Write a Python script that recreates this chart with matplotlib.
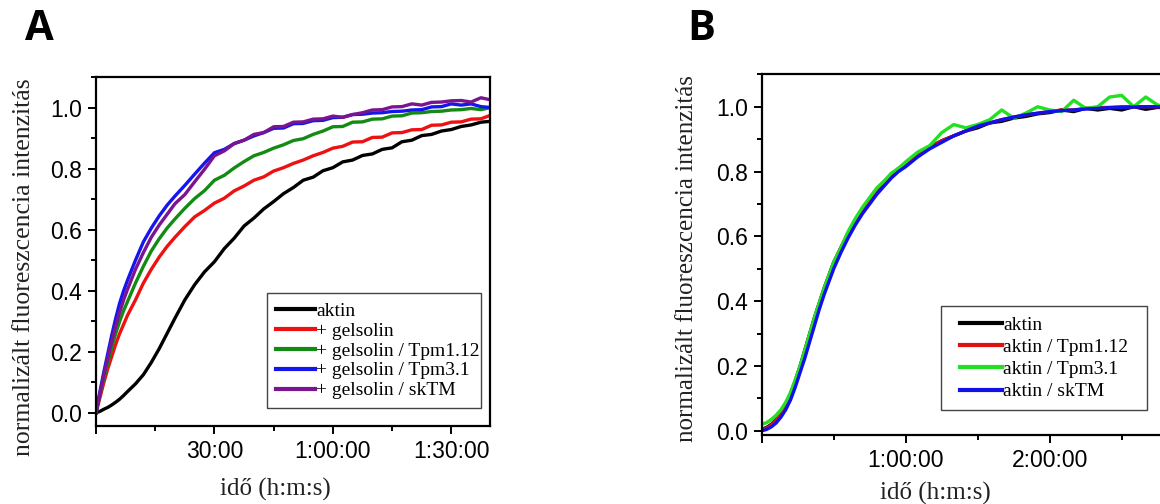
import matplotlib
matplotlib.use("Agg")
import matplotlib.pyplot as plt
from matplotlib.patches import Rectangle
from matplotlib.ticker import MultipleLocator, FuncFormatter

# ---------- Data (time in minutes, normalised intensity) ----------

# Panel A
time_a = [0, 1, 2, 3, 4, 5, 6, 7, 8, 10, 12, 14, 16, 18, 20,
          22.5, 25, 27.5, 30, 32.5, 35, 37.5, 40, 42.5, 45, 47.5, 50, 52.5, 55, 57.5,
          60, 62.5, 65, 67.5, 70, 72.5, 75, 77.5, 80, 82.5, 85, 87.5, 90, 92.5, 95, 97.5, 100]
aktin_a = [0.0, 0.005, 0.012, 0.018, 0.026, 0.035, 0.045, 0.057, 0.07, 0.095, 0.125, 0.165, 0.21, 0.26, 0.31,
           0.37, 0.42, 0.462, 0.495, 0.538, 0.572, 0.612, 0.638, 0.668, 0.692, 0.718, 0.738, 0.762, 0.772, 0.793,
           0.803, 0.822, 0.828, 0.843, 0.848, 0.863, 0.868, 0.888, 0.893, 0.908, 0.912, 0.923, 0.928, 0.938, 0.943, 0.952, 0.955]
gelsolin_a = [0.0, 0.05, 0.10, 0.145, 0.185, 0.225, 0.26, 0.29, 0.32, 0.37, 0.425, 0.47, 0.51, 0.545, 0.575,
              0.61, 0.642, 0.663, 0.687, 0.703, 0.727, 0.743, 0.762, 0.773, 0.792, 0.803, 0.817, 0.828, 0.842, 0.853,
              0.867, 0.873, 0.887, 0.888, 0.902, 0.903, 0.917, 0.918, 0.927, 0.928, 0.942, 0.943, 0.952, 0.953, 0.962, 0.963, 0.975]
tpm112_a = [0.0, 0.06, 0.115, 0.165, 0.215, 0.26, 0.30, 0.335, 0.365, 0.425, 0.48, 0.53, 0.57, 0.605, 0.635,
            0.67, 0.702, 0.728, 0.762, 0.778, 0.802, 0.823, 0.842, 0.853, 0.867, 0.878, 0.892, 0.898, 0.912, 0.923,
            0.937, 0.938, 0.952, 0.953, 0.962, 0.963, 0.972, 0.973, 0.982, 0.983, 0.987, 0.988, 0.992, 0.993, 0.997, 0.993, 1.0]
tpm31_a = [0.0, 0.07, 0.135, 0.195, 0.255, 0.31, 0.36, 0.40, 0.435, 0.50, 0.56, 0.605, 0.645, 0.68, 0.71,
           0.745, 0.782, 0.818, 0.852, 0.863, 0.882, 0.893, 0.907, 0.918, 0.932, 0.933, 0.947, 0.948, 0.957, 0.958,
           0.967, 0.968, 0.977, 0.978, 0.982, 0.983, 0.987, 0.988, 0.992, 0.993, 1.002, 1.003, 1.012, 1.008, 1.012, 1.003, 1.0]
sktm_a = [0.0, 0.065, 0.125, 0.18, 0.235, 0.285, 0.33, 0.37, 0.405, 0.47, 0.525, 0.575, 0.615, 0.65, 0.685,
          0.715, 0.757, 0.798, 0.842, 0.858, 0.882, 0.893, 0.912, 0.918, 0.937, 0.938, 0.952, 0.953, 0.962, 0.963,
          0.972, 0.968, 0.977, 0.983, 0.992, 0.993, 1.002, 1.003, 1.012, 1.008, 1.017, 1.018, 1.022, 1.023, 1.018, 1.032, 1.025]
labels_a = ["aktin", "+ gelsolin", "+ gelsolin / Tpm1.12", "+ gelsolin / Tpm3.1", "+ gelsolin / skTM"]
colors_a = ["#000000", "#ee1111", "#138a13", "#1515ee", "#7a1490"]

# Panel B
time_b = [0, 2, 4, 6, 8, 10, 12, 14, 16, 18, 20, 22, 24, 26, 28, 30,
          33, 36, 39, 42, 45, 48, 51, 54, 57, 60,
          65, 70, 75, 80, 85, 90, 95, 100, 105, 110, 115, 120, 125, 130, 135, 140, 145, 150, 155, 160, 165, 170, 175]
aktin_b = [0.005, 0.01, 0.02, 0.035, 0.055, 0.08, 0.115, 0.155, 0.20, 0.25, 0.30, 0.35, 0.395, 0.44, 0.48, 0.52,
           0.565, 0.61, 0.65, 0.685, 0.715, 0.74, 0.765, 0.79, 0.805, 0.82,
           0.85, 0.875, 0.895, 0.91, 0.925, 0.935, 0.95, 0.955, 0.965, 0.97, 0.978, 0.982, 0.99, 0.985, 0.995, 0.99,
           0.995, 0.99, 1.0, 0.992, 0.998, 0.995, 1.0]
tpm112_b = [0.003, 0.008, 0.018, 0.033, 0.053, 0.078, 0.11, 0.15, 0.195, 0.245, 0.295, 0.345, 0.39, 0.435, 0.475, 0.515,
            0.565, 0.61, 0.65, 0.685, 0.715, 0.745, 0.77, 0.79, 0.81, 0.825,
            0.855, 0.875, 0.895, 0.91, 0.925, 0.94, 0.95, 0.96, 0.968, 0.975, 0.98, 0.985, 0.99, 0.99, 0.995, 0.997,
            0.998, 1.0, 1.0, 1.0, 1.0, 1.0, 1.0]
tpm31_b = [0.02, 0.025, 0.035, 0.048, 0.065, 0.088, 0.118, 0.158, 0.20, 0.25, 0.30, 0.35, 0.395, 0.44, 0.48, 0.52,
           0.565, 0.615, 0.655, 0.69, 0.72, 0.75, 0.77, 0.795, 0.81, 0.83,
           0.86, 0.88, 0.92, 0.945, 0.935, 0.945, 0.96, 0.99, 0.965, 0.98, 1.0, 0.99, 0.985, 1.02, 0.995, 1.0,
           1.03, 1.035, 1.0, 1.03, 1.005, 1.0, 1.005]
sktm_b = [0.0, 0.004, 0.012, 0.024, 0.042, 0.065, 0.095, 0.135, 0.18, 0.225, 0.275, 0.325, 0.375, 0.42, 0.46, 0.50,
          0.55, 0.595, 0.635, 0.67, 0.70, 0.73, 0.755, 0.78, 0.80, 0.815,
          0.845, 0.87, 0.89, 0.91, 0.925, 0.94, 0.95, 0.96, 0.968, 0.975, 0.98, 0.985, 0.988, 0.99, 0.993, 0.995,
          0.997, 0.998, 0.999, 1.0, 1.0, 1.0, 1.0]
labels_b = ["aktin", "aktin / Tpm1.12", "aktin / Tpm3.1", "aktin / skTM"]
colors_b = ["#000000", "#e01010", "#22e022", "#1010e8"]

SANS = "Liberation Sans"
SERIF = "Liberation Serif"
W, H = 1160, 504


def hms(m, pos):
    if m <= 0:
        return ""
    s = int(round(m * 60))
    h, r = divmod(s, 3600)
    mm, ss = divmod(r, 60)
    return f"{h}:{mm:02d}:{ss:02d}" if h else f"{mm}:{ss:02d}"


def style_axes(ax, major_x, minor_x):
    for sp in ax.spines.values():
        sp.set_linewidth(1.6)
    ax.xaxis.set_major_locator(MultipleLocator(major_x))
    ax.xaxis.set_minor_locator(MultipleLocator(minor_x))
    ax.xaxis.set_major_formatter(FuncFormatter(hms))
    ax.yaxis.set_major_locator(MultipleLocator(0.2))
    ax.yaxis.set_minor_locator(MultipleLocator(0.1))
    ax.yaxis.set_major_formatter(FuncFormatter(lambda v, p: f"{v:.1f}"))
    ax.tick_params(which="both", direction="out", top=False, right=False, width=1.4)
    ax.tick_params(which="major", length=6, labelsize=16.5, pad=4)
    ax.tick_params(which="minor", length=3.5)
    for lab in ax.get_xticklabels() + ax.get_yticklabels():
        lab.set_fontfamily(SANS)


def boxed_legend(ax, anchor_px, box_px, spacing, handle_len):
    # legend without its own frame, plus a plain box placed in pixels
    leg = ax.legend(loc="upper left", bbox_to_anchor=(anchor_px[0] / W, 1 - anchor_px[1] / H),
                    bbox_transform=fig.transFigure, borderaxespad=0, borderpad=0,
                    prop={"family": SERIF, "size": 14}, handlelength=handle_len, handletextpad=0.08,
                    labelspacing=spacing, frameon=False)
    for ln in leg.get_lines():
        ln.set_linewidth(3)
    leg.set_zorder(6)
    x0, y0, x1, y1 = box_px
    ax.add_patch(Rectangle((x0 / W, 1 - y1 / H), (x1 - x0) / W, (y1 - y0) / H,
                           transform=fig.transFigure, facecolor="white", clip_on=False,
                           edgecolor="#444444", linewidth=1.0, zorder=5))
    return leg


fig = plt.figure(figsize=(W / 100, H / 100), dpi=100)

# ---------- Panel A ----------
ax_a = fig.add_axes([96 / W, 1 - 426 / H, 394 / W, 349 / H])
for y, lab, c in zip([aktin_a, gelsolin_a, tpm112_a, tpm31_a, sktm_a], labels_a, colors_a):
    ax_a.plot(time_a, y, color=c, lw=2.4, label=lab)
ax_a.set_xlim(0, 99.8)
ax_a.set_ylim(-0.043, 1.10)
style_axes(ax_a, 30, 15)
boxed_legend(ax_a, (276, 302), (267, 293, 481, 408), 0.12, 2.0)

fig.text(24 / W, 1 - 267 / H, "normalizált fluoreszcencia intenzitás", rotation=90,
         ha="center", va="center", fontsize=18.5, family=SERIF, color="#222222")
fig.text(275 / W, 1 - 489 / H, "idő (h:m:s)", ha="center", va="center",
         fontsize=18, family=SERIF, color="#222222")
fig.text(39 / W, 1 - 29 / H, "A", ha="center", va="center", fontsize=30,
         family="Open Sans", weight="bold")

# ---------- Panel B ----------
ax_b = fig.add_axes([761.7 / W, 1 - 435 / H, 420 / W, 361 / H])
for y, lab, c in zip([aktin_b, tpm112_b, tpm31_b, sktm_b], labels_b, colors_b):
    ax_b.plot(time_b, y, color=c, lw=2.4, label=lab)
ax_b.set_xlim(0, 175)
ax_b.set_ylim(-0.013, 1.101)
style_axes(ax_b, 60, 30)
boxed_legend(ax_b, (960, 316), (941, 306, 1147, 410), 0.24, 2.15)

fig.text(687 / W, 1 - 259 / H, "normalizált fluoreszcencia intenzitás", rotation=90,
         ha="center", va="center", fontsize=18, family=SERIF, color="#222222")
fig.text(935 / W, 1 - 493 / H, "idő (h:m:s)", ha="center", va="center",
         fontsize=18, family=SERIF, color="#222222")
fig.text(701 / W, 1 - 29 / H, "B", ha="center", va="center", fontsize=30,
         family="Open Sans", weight="bold")

fig.savefig("out.png", dpi=100)
